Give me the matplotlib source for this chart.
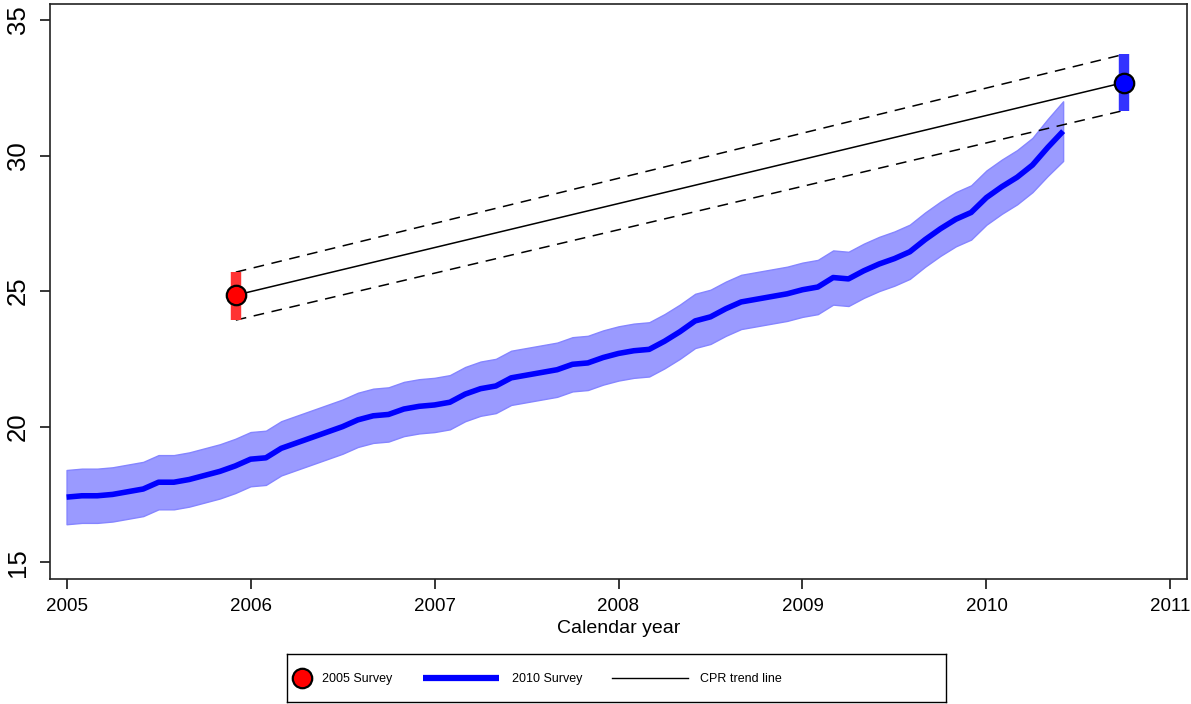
import matplotlib
matplotlib.use('Agg')
import matplotlib.pyplot as plt
import numpy as np

plt.rcParams['font.family'] = ['Liberation Sans', 'DejaVu Sans']

# 2010 survey, monthly estimates
months = np.arange(66) / 12.0 + 2005.0
cpr_2010 = [17.40, 17.45, 17.45, 17.50, 17.60, 17.70, 17.95, 17.95, 18.05, 18.20,
            18.35, 18.55, 18.80, 18.85, 19.20, 19.40, 19.60, 19.80, 20.00, 20.25,
            20.40, 20.45, 20.65, 20.75, 20.80, 20.90, 21.20, 21.40, 21.50, 21.80,
            21.90, 22.00, 22.10, 22.30, 22.35, 22.55, 22.70, 22.80, 22.85, 23.15,
            23.50, 23.90, 24.05, 24.35, 24.60, 24.70, 24.80, 24.90, 25.05, 25.15,
            25.50, 25.45, 25.75, 26.00, 26.20, 26.45, 26.90, 27.30, 27.65, 27.90,
            28.45, 28.85, 29.20, 29.65, 30.30, 30.90]
ci_lo = [16.40, 16.45, 16.45, 16.50, 16.60, 16.70, 16.95, 16.95, 17.05, 17.20,
         17.35, 17.55, 17.80, 17.85, 18.20, 18.40, 18.60, 18.80, 19.00, 19.25,
         19.40, 19.45, 19.65, 19.75, 19.80, 19.90, 20.20, 20.40, 20.50, 20.80,
         20.90, 21.00, 21.10, 21.30, 21.35, 21.55, 21.70, 21.80, 21.85, 22.15,
         22.50, 22.90, 23.05, 23.35, 23.60, 23.70, 23.80, 23.90, 24.05, 24.15,
         24.50, 24.45, 24.75, 25.00, 25.20, 25.45, 25.90, 26.30, 26.65, 26.90,
         27.45, 27.85, 28.20, 28.65, 29.25, 29.80]
ci_hi = [18.40, 18.45, 18.45, 18.50, 18.60, 18.70, 18.95, 18.95, 19.05, 19.20,
         19.35, 19.55, 19.80, 19.85, 20.20, 20.40, 20.60, 20.80, 21.00, 21.25,
         21.40, 21.45, 21.65, 21.75, 21.80, 21.90, 22.20, 22.40, 22.50, 22.80,
         22.90, 23.00, 23.10, 23.30, 23.35, 23.55, 23.70, 23.80, 23.85, 24.15,
         24.50, 24.90, 25.05, 25.35, 25.60, 25.70, 25.80, 25.90, 26.05, 26.15,
         26.50, 26.45, 26.75, 27.00, 27.20, 27.45, 27.90, 28.30, 28.65, 28.90,
         29.45, 29.85, 30.20, 30.65, 31.35, 32.00]

# survey point estimates with 95% CI
survey_x = [2005.92, 2010.745]
survey_y = [24.85, 32.69]
survey_lo = [23.93, 31.66]
survey_hi = [25.70, 33.73]

xticks = [2005, 2006, 2007, 2008, 2009, 2010, 2011]
yticks = [15, 20, 25, 30, 35]

fig = plt.figure(figsize=(11.91, 7.04), dpi=100)
ax = fig.add_axes([50 / 1191, 125 / 704, 1137 / 1191, 575 / 704])

ax.fill_between(months, ci_lo, ci_hi, facecolor='#9a9aff', edgecolor='#8585ff', linewidth=1, zorder=1)
ax.plot(months, cpr_2010, color='#0000ff', linewidth=4.0, solid_capstyle='butt', zorder=2)

# trend lines between surveys
ax.plot(survey_x, survey_y, color='black', linewidth=1.1, zorder=3)
ax.plot(survey_x, survey_hi, color='black', linewidth=1.1, dashes=(7, 5), zorder=3)
ax.plot(survey_x, survey_lo, color='black', linewidth=1.1, dashes=(7, 5), zorder=3)

# CI bars
ax.vlines(survey_x[0], survey_lo[0], survey_hi[0], color='#ff3333', linewidth=7.5, zorder=4)
ax.vlines(survey_x[1], survey_lo[1], survey_hi[1], color='#3333ff', linewidth=7.5, zorder=4)
ax.plot(survey_x[0], survey_y[0], 'o', markersize=14, markerfacecolor='#ff0000',
        markeredgecolor='black', markeredgewidth=1.6, zorder=5)
ax.plot(survey_x[1], survey_y[1], 'o', markersize=14, markerfacecolor='#0000ff',
        markeredgecolor='black', markeredgewidth=1.6, zorder=5)

ax.set_xlim(2004.91, 2011.09)
ax.set_ylim(14.38, 35.59)
ax.set_xticks(xticks)
ax.set_yticks(yticks)
ax.tick_params(axis='x', labelsize=13.5, length=7.5, width=1.1, pad=6)
ax.tick_params(axis='y', labelsize=18.5, length=7.5, width=1.1, pad=7)
plt.setp(ax.get_yticklabels(), rotation=90, va='center')
for s in ax.spines.values():
    s.set_linewidth(1.2)
    s.set_color('#222222')
ax.set_xlabel('Calendar year', fontsize=14, labelpad=4)

# legend box
lax = fig.add_axes([287 / 1191, 2 / 704, 659 / 1191, 48 / 704])
lax.set_xlim(0, 659)
lax.set_ylim(0, 48)
lax.set_xticks([])
lax.set_yticks([])
for s in lax.spines.values():
    s.set_linewidth(1.0)
lax.plot(15, 24, 'o', markersize=14, markerfacecolor='#ff0000',
         markeredgecolor='black', markeredgewidth=1.6)
lax.text(35, 23, '2005 Survey', fontsize=9, va='center')
lax.plot([136, 212], [24, 24], color='#0000ff', linewidth=4.5, solid_capstyle='butt')
lax.text(225, 23, '2010 Survey', fontsize=9, va='center')
lax.plot([325, 401], [24, 24], color='black', linewidth=1.0)
lax.text(413, 23, 'CPR trend line', fontsize=9, va='center')

fig.savefig('out.png', dpi=100)
